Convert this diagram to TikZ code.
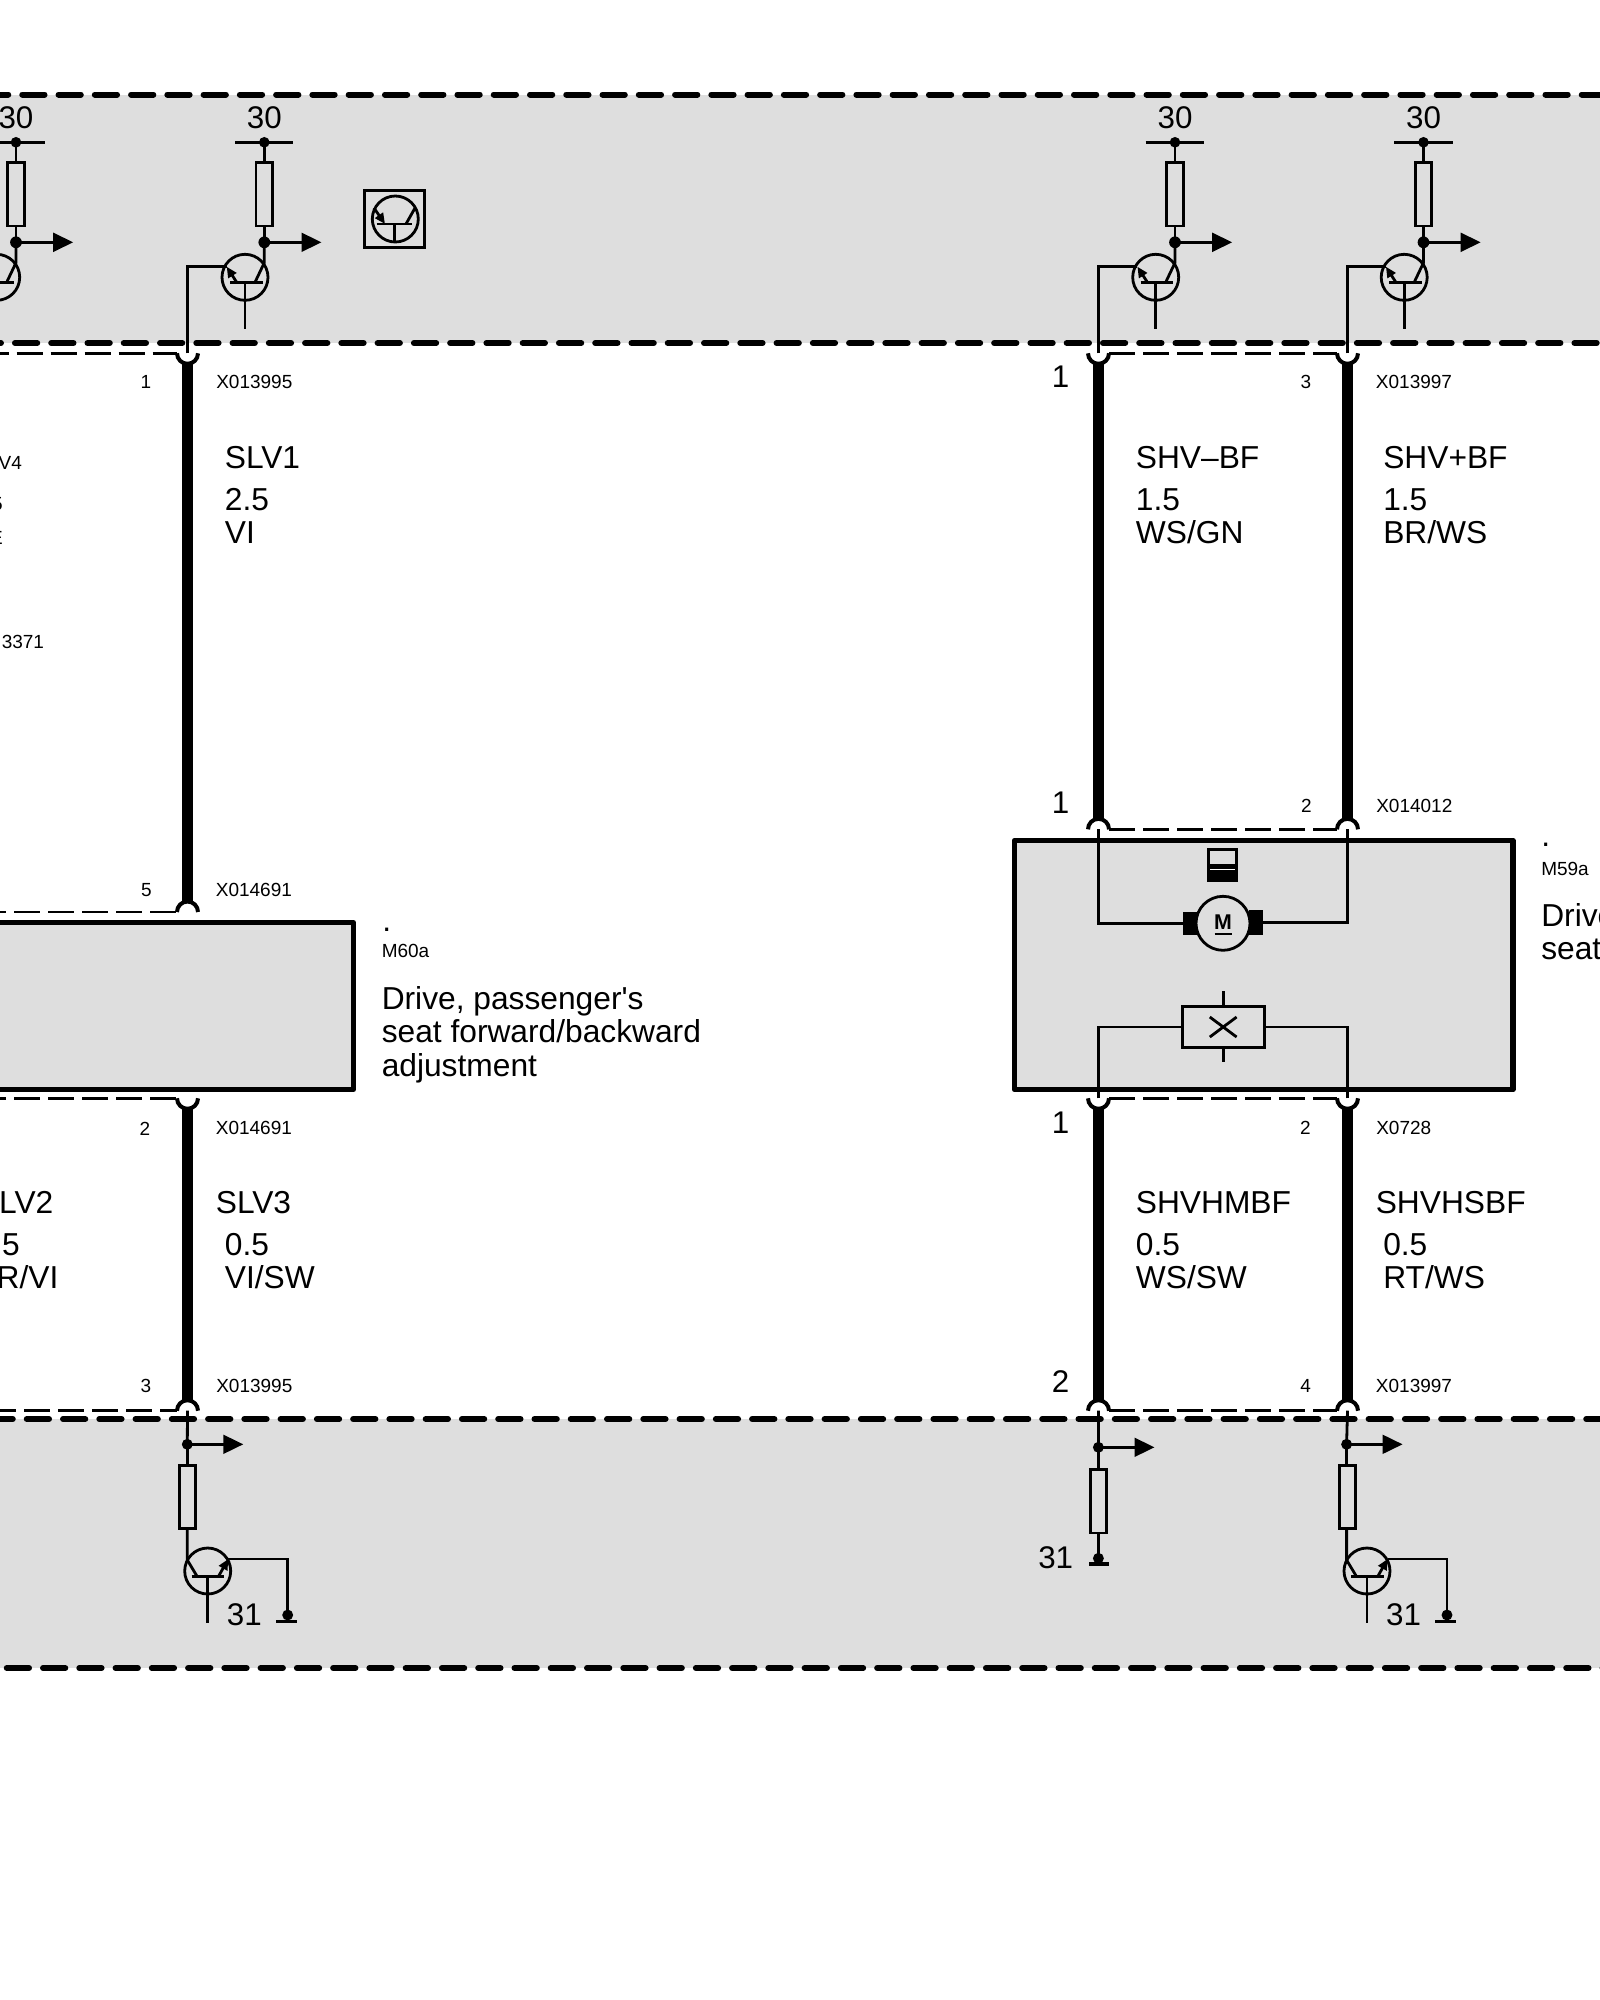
\documentclass[tikz,border=0pt]{standalone}
\usepackage{fontspec}
\setmainfont{Liberation Sans}
\newfontfamily\plainsans{Liberation Sans}
\usetikzlibrary{arrows.meta}
\definecolor{bandgray}{HTML}{DEDEDE}
\tikzset{
  wirethin/.style={line width=2.1pt,line join=miter},
  harness/.style={line width=8.4pt},
  connarc/.style={line width=3pt},
  banddash/.style={line width=4.5pt,line cap=round,dash pattern=on 16.7pt off 10.5pt},
  thindash/.style={line width=2pt,dash pattern=on 19.5pt off 6pt},
  modbox/.style={rectangle,draw,fill=bandgray,line width=4pt,line join=round,inner sep=0pt},
  lab/.style={inner sep=0pt,anchor=base west,font=\fontsize{23.8}{25}\selectfont},
  labc/.style={inner sep=0pt,anchor=base,font=\fontsize{23.5}{25}\selectfont},
  labe/.style={inner sep=0pt,anchor=base east,font=\fontsize{23.8}{25}\selectfont},
  sml/.style={inner sep=0pt,anchor=base west,font=\fontsize{14.25}{16}\selectfont},
  smlc/.style={inner sep=0pt,anchor=base,font=\fontsize{14.25}{16}\selectfont},
  smle/.style={inner sep=0pt,anchor=base east,font=\fontsize{14.25}{16}\selectfont},
  qcirc/.style={circle,draw,line width=2.1pt,minimum size=34.5pt,inner sep=0pt},
  resist/.style={rectangle,draw,line width=2.1pt,inner sep=0pt},
  bigarrow/.style={wirethin,-{Triangle[length=15pt,width=14pt]}},
  emarrow/.style={wirethin,-{Triangle[length=8pt,width=7pt]}},
}
\newcommand{\humpup}[2]{\draw[connarc] (#1-10.5,#2) arc[start angle=180,end angle=0,radius=7.875pt];}
\newcommand{\humpdn}[2]{\draw[connarc] (#1-10.5,#2) arc[start angle=180,end angle=360,radius=7.875pt];}
% driver group in the upper band; #1 name, #2 x shift
\newcommand{\uppergroup}[2]{%
\begin{scope}[shift={(#2,0)}]
  \node[labc] (#1lab) at (264.3,128.3) {30};
  \coordinate (#1bl) at (235,142.3);
  \coordinate (#1br) at (293.3,142.3);
  \draw[wirethin] (#1bl) -- (#1br);
  \node[resist,minimum width=12.5pt,minimum height=47.5pt] (#1r) at (264.3,194.3) {};
  \fill (264.3,142.3) coordinate (#1s) circle[radius=4pt];
  \fill (264.3,242.3) coordinate (#1j) circle[radius=4.4pt];
  \draw[wirethin] (#1s) -- (#1r.north);
  \draw[wirethin] (#1r.south) -- (#1j);
  \coordinate (#1tip) at (321.5,242.3);
  \draw[bigarrow] (#1j) -- (#1tip);
  \node[qcirc] (#1q) at (245,277.3) {};
  \draw[wirethin] (230,282.3) -- (262.7,282.3);
  \draw[wirethin] (245,282.3) -- (245,329.3);
  \draw[wirethin] (#1j) -- (264.3,262.7) -- (255,282.3);
  \coordinate (#1e) at (226.7,266.7);
  \draw[emarrow] (236.7,282.3) -- (#1e);
\end{scope}}
% driver group in the lower band; #1 name, #2 x shift
\newcommand{\lowergroup}[2]{%
\begin{scope}[shift={(#2,0)}]
  \fill (187.3,1444.3) coordinate (#1j) circle[radius=4.1pt];
  \coordinate (#1tip) at (243.3,1444.3);
  \draw[bigarrow] (#1j) -- (#1tip);
  \node[resist,minimum width=12pt,minimum height=47.5pt] (#1r) at (187.8,1497) {};
  \draw[wirethin] (#1j) -- (187.3,1464);
  \draw[wirethin] (187.3,1530) -- (187.3,1560) -- (197.3,1576.7);
  \node[qcirc] (#1q) at (207.7,1571) {};
  \draw[wirethin] (191.7,1576.7) -- (224.3,1576.7);
  \draw[wirethin] (207.7,1576.7) -- (207.7,1622.7);
  \coordinate (#1e) at (228.3,1559);
  \draw[emarrow] (218.3,1576.7) -- (#1e);
  \fill (287.7,1615) coordinate (#1g) circle[radius=4.1pt];
  \draw[wirethin] (#1e) -| (#1g);
  \draw[line width=2.4pt] (276,1621.7) -- (296.7,1621.7);
  \node[labc] (#1lab) at (244.3,1625.7) {31};
\end{scope}}
\begin{document}
\begin{tikzpicture}[x=0.75pt,y=-0.75pt]
\useasboundingbox (0,0) rectangle (1600,2000);
\fill[white] (0,0) rectangle (1600,2000);
% bands
\fill[bandgray] (0,94.5) rectangle (1600,343);
\fill[bandgray] (0,1419) rectangle (1600,1668);
\draw[banddash] (-14,94.5) -- (1610,94.5);
\draw[banddash] (-21.3,343) -- (1610,343);
\draw[banddash] (-9.5,1419) -- (1610,1419);
\draw[banddash] (-29.5,1668) -- (1610,1668);
% modules
\node[modbox,minimum width=272.6pt,minimum height=125.1pt] (m60) at (171.75,1006) {};
\node[modbox,minimum width=374pt,minimum height=187pt] (m59) at (1263.7,965) {};
% thin connector dashes
\draw[thindash] (-17.3,353.3) -- (177,353.3);
\draw[thindash] (-20,912) -- (177,912);
\draw[thindash] (-20,1098.3) -- (177,1098.3);
\draw[thindash] (-10,1410.7) -- (177,1410.7);
\draw[thindash] (1109,353.3) -- (1337,353.3);
\draw[thindash] (1109,829.3) -- (1337,829.3);
\draw[thindash] (1109,1098.3) -- (1337,1098.3);
\draw[thindash] (1109,1410.7) -- (1337,1410.7);
% harness wires
\coordinate (a1) at (187.5,353.3); \coordinate (a2) at (187.5,912);
\coordinate (a3) at (187.5,1098.3); \coordinate (a4) at (187.5,1410.7);
\coordinate (b1) at (1098.5,353.3); \coordinate (b2) at (1098.5,829.3);
\coordinate (b3) at (1098.5,1098.3); \coordinate (b4) at (1098.5,1410.7);
\coordinate (c1) at (1347.5,353.3); \coordinate (c2) at (1347.5,829.3);
\coordinate (c3) at (1347.5,1098.3); \coordinate (c4) at (1347.5,1410.7);
\draw[harness] ([yshift=-7.5pt]a1) -- ([yshift=7.5pt]a2);
\draw[harness] ([yshift=-7.5pt]a3) -- ([yshift=7.5pt]a4);
\draw[harness] ([yshift=-7.5pt]b1) -- ([yshift=7.5pt]b2);
\draw[harness] ([yshift=-7.5pt]b3) -- ([yshift=7.5pt]b4);
\draw[harness] ([yshift=-7.5pt]c1) -- ([yshift=7.5pt]c2);
\draw[harness] ([yshift=-7.5pt]c3) -- ([yshift=7.5pt]c4);
% connector humps
\humpdn{187.5}{353.3} \humpup{187.5}{912} \humpdn{187.5}{1098.3} \humpup{187.5}{1410.7}
\humpdn{1098.5}{353.3} \humpup{1098.5}{829.3} \humpdn{1098.5}{1098.3} \humpup{1098.5}{1410.7}
\humpdn{1347.5}{353.3} \humpup{1347.5}{829.3} \humpdn{1347.5}{1098.3} \humpup{1347.5}{1410.7}
% upper band groups
\uppergroup{gz}{-248.3}
\uppergroup{ga}{0}
\uppergroup{gb}{910.7}
\uppergroup{gc}{1159.2}
\draw[wirethin] (a1) |- (gae);
\draw[wirethin] (b1) |- (gbe);
\draw[wirethin] (c1) |- (gce);
% transistor key symbol
\node[rectangle,draw,line width=2.1pt,minimum width=45pt,minimum height=42.8pt,inner sep=0pt] (keybox) at (394.5,219.2) {};
\node[qcirc] (keyq) at (395.3,219) {};
\draw[wirethin] (376.7,224) -- (412.3,224);
\draw[wirethin] (394.3,224) -- (394.3,243.3);
\draw[wirethin] (406,224) -- (415,208);
\draw[wirethin,{Triangle[length=8pt,width=7pt]}-] (385,224) -- (374,208);
% lower band groups
\lowergroup{la}{0}
\lowergroup{lc}{1159.3}
\draw[wirethin] (a4) -- (laj);
\draw[wirethin] (c4) -- (lcj);
\fill (1098.4,1447.3) coordinate (lbj) circle[radius=4.1pt];
\coordinate (lbtip) at (1154.5,1447.3);
\draw[bigarrow] (lbj) -- (lbtip);
\node[resist,minimum width=12pt,minimum height=47.5pt] (lbr) at (1098.8,1501.3) {};
\fill (1098.4,1558.3) coordinate (lbg) circle[radius=4.1pt];
\draw[wirethin] (b4) -- (lbj);
\draw[wirethin] (lbj) -- (1098.4,1468.7);
\draw[wirethin] (1098.4,1534) -- (lbg);
\draw[line width=2.4pt] (1089,1564) -- (1108.7,1564);
\node[labc] (lb31) at (1055.7,1568.3) {31};
% motor
\node[fill=black,rectangle,minimum width=10.5pt,minimum height=17.2pt,inner sep=0pt] (mbl) at (1189.8,923.5) {};
\node[fill=black,rectangle,minimum width=10.5pt,minimum height=18.5pt,inner sep=0pt] (mbr) at (1256,922.3) {};
\node[circle,draw,fill=bandgray,line width=2.1pt,minimum size=40.5pt,inner sep=0pt] (mot) at (1223,923.3) {};
\node[inner sep=0pt,anchor=base,font=\fontsize{16}{18}\selectfont\bfseries] (motm) at (1223,929) {M};
\draw[line width=1.7pt] (1214.5,934.3) -- (1231.5,934.3);
\draw[wirethin] (b2) |- (mbl.west);
\draw[wirethin] (c2) |- (mbr.east);
% position sensor icon
\node[fill=black,rectangle,minimum width=22.8pt,minimum height=25pt,inner sep=0pt] (bat) at (1222.5,865) {};
\fill[bandgray] (1210,851) rectangle (1235,864);
\draw[white,line width=0.9pt] (1210,869.3) -- (1235,869.3);
% switch
\node[rectangle,draw,line width=2.1pt,minimum width=61.5pt,minimum height=31pt,inner sep=0pt] (sw) at (1223.2,1026.9) {};
\draw[wirethin] (b3) |- (sw.west);
\draw[wirethin] (c3) |- (sw.east);
\draw[wirethin] (sw.north) -- ++(0,-14);
\draw[wirethin] (sw.south) -- ++(0,13);
\draw[wirethin] (1209.8,1037) -- (1236.6,1017);
\draw[wirethin] (1209.8,1017) -- (1236.6,1037);
% small pin labels and connector names
\node[smlc] (p1) at (146,388) {1};
\node[sml] (x1) at (216,388) {X013995};
\node[smlc] (p5) at (146.5,896) {5};
\node[sml] (x2) at (215.6,896) {X014691};
\node[smlc] (p2) at (145,1135) {2};
\node[sml] (x3) at (215.6,1134.5) {X014691};
\node[smlc] (p3) at (146,1392.5) {3};
\node[sml] (x4) at (216,1392.5) {X013995};
\node[labc] (pb1) at (1060.5,387) {1};
\node[smlc] (pc3) at (1306,388) {3};
\node[sml] (x5) at (1375.7,388) {X013997};
\node[labc] (pb2) at (1060.5,813) {1};
\node[smlc] (pc2) at (1306.5,812.5) {2};
\node[sml] (x6) at (1376,812.5) {X014012};
\node[labc] (pb3) at (1060.5,1133) {1};
\node[smlc] (pc4) at (1305.5,1134) {2};
\node[sml] (x7) at (1376,1134) {X0728};
\node[labc] (pb4) at (1060.7,1392) {2};
\node[smlc] (pc5) at (1305.7,1392.5) {4};
\node[sml] (x8) at (1375.7,1392.5) {X013997};
% clipped left labels
\node[smle] (f1) at (22.2,469) {V4};
\node[smle] (f2) at (3,510) {5};
\node[smle] (f3) at (3,544) {E};
\node[smle] (f4) at (44.3,648) {3371};
\node[labe] (f5) at (53.6,1213.5) {LV2};
\node[labe] (f6) at (20,1255.5) {5};
\node[labe] (f7) at (58.7,1288.5) {R/VI};
% wire labels
\node[lab] (w1a) at (224.6,468.5) {SLV1};
\node[lab] (w1b) at (224.6,510.5) {2.5};
\node[lab] (w1c) at (224.6,543.5) {VI};
\node[lab] (w2a) at (215.6,1213.5) {SLV3};
\node[lab] (w2b) at (224.6,1255.5) {0.5};
\node[lab] (w2c) at (224.6,1288.5) {VI/SW};
\node[lab] (w3a) at (1135.6,468.5) {SHV–BF};
\node[lab] (w3b) at (1135.6,510.5) {1.5};
\node[lab] (w3c) at (1135.6,543.5) {WS/GN};
\node[lab] (w4a) at (1383,468.5) {SHV+BF};
\node[lab] (w4b) at (1383,510.5) {1.5};
\node[lab] (w4c) at (1383,543.5) {BR/WS};
\node[lab] (w5a) at (1135.6,1213.5) {SHVHMBF};
\node[lab] (w5b) at (1135.6,1255.5) {0.5};
\node[lab] (w5c) at (1135.6,1288.5) {WS/SW};
\node[lab] (w6a) at (1375.5,1213.5) {SHVHSBF};
\node[lab] (w6b) at (1383,1255.5) {0.5};
\node[lab] (w6c) at (1383,1288.5) {RT/WS};
% module labels
\node[lab] (d1) at (382,931) {.};
\node[sml] (n1) at (381.5,957.5) {M60a};
\node[lab] (t1) at (381.5,1009.6) {\plainsans Drive, passenger's};
\node[lab] (t2) at (381.5,1042.8) {seat forward/backward};
\node[lab] (t3) at (381.5,1076) {adjustment};
\node[lab] (d2) at (1541,846.7) {.};
\node[sml] (n2) at (1541,875) {M59a};
\node[lab] (t4) at (1541,926) {Drive};
\node[lab] (t5) at (1541,959) {seat};
\end{tikzpicture}
\end{document}
